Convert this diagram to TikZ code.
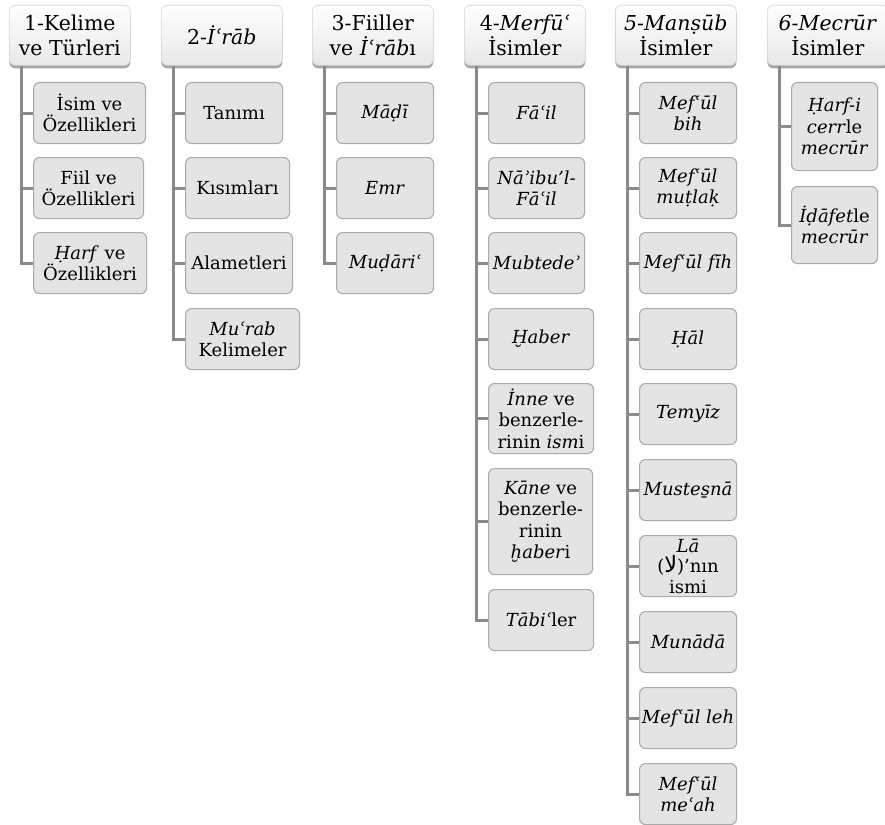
\documentclass[tikz,border=0pt]{standalone}
\usepackage{fontspec}
\setmainfont{DejaVu Serif}
\newfontfamily\arabicfont[Script=Arabic,Scale=1.25]{DejaVu Sans}
\TeXXeTstate=1
\usetikzlibrary{shadows}

\definecolor{trunk}{HTML}{8A8A8A}
\definecolor{subfill}{HTML}{E4E4E4}
\definecolor{subedge}{HTML}{AAAAAA}
\definecolor{headedge}{HTML}{D2D2D2}

\tikzset{
  head/.style={draw=headedge, line width=0.6pt, rounded corners=6pt,
    top color=white, bottom color=black!9,
    drop shadow={shadow xshift=0pt, shadow yshift=-3pt, opacity=0.35, fill=black},
    anchor=north west, minimum width=121pt, minimum height=60pt, inner sep=0pt,
    align=center, font=\fontsize{20.5pt}{25pt}\selectfont},
  sub/.style={draw=subedge, line width=1.1pt, rounded corners=6pt, fill=subfill,
    anchor=north west, inner sep=0pt, align=center,
    font=\fontsize{18pt}{21.5pt}\selectfont},
  sz/.style 2 args={minimum width=#1pt, minimum height=#2pt},
  conn/.style={draw=trunk, line width=3pt},
}

\begin{document}
\begin{tikzpicture}[x=1pt, y=-1pt]
\useasboundingbox (0,0) rectangle (885,824);

% column headers
\node[head] (h1) at (9,5)   {1-Kelime\\ve Türleri};
\node[head] (h2) at (161,5) {2-\textit{İʿrāb}};
\node[head] (h3) at (312,5) {3-Fiiller\\ve \textit{İʿrāb}ı};
\node[head] (h4) at (464,5) {4-\textit{Merfūʿ}\\İsimler};
\node[head] (h5) at (615,5) {\textit{5-Manṣūb}\\İsimler};
\node[head] (h6) at (767,5) {\textit{6-Mecrūr}\\İsimler};

% 1: Kelime
\node[sub, sz={112}{61}] (a1) at (33,82)  {İsim ve\\Özellikleri};
\node[sub, sz={110}{61}] (a2) at (33,157) {Fiil ve\\Özellikleri};
\node[sub, sz={113}{61}] (a3) at (33,232) {\textit{Ḥarf} ve\\Özellikleri};

% 2: İ'rab
\node[sub, sz={97}{61}]  (b1) at (185,82)  {Tanımı};
\node[sub, sz={104}{61}] (b2) at (185,157) {Kısımları};
\node[sub, sz={107}{61}] (b3) at (185,232) {Alametleri};
\node[sub, sz={114}{61}] (b4) at (185,308) {\textit{Muʿrab}\\Kelimeler};

% 3: Fiiller
\node[sub, sz={97}{61}] (d1) at (336,82)  {\textit{Māḍī}};
\node[sub, sz={97}{61}] (d2) at (336,157) {\textit{Emr}};
\node[sub, sz={97}{61}] (d3) at (336,232) {\textit{Muḍāriʿ}};

% 4: Merfu' isimler
\node[sub, sz={96}{61}]   (e1) at (488,82)  {\textit{Fāʿil}};
\node[sub, sz={96}{61}]   (e2) at (488,157) {\textit{Nāʾibu’l-}\\\textit{Fāʿil}};
\node[sub, sz={96}{61}]   (e3) at (488,232) {\textit{Mubtedeʾ}};
\node[sub, sz={105}{61}]  (e4) at (488,308) {\textit{Ḫaber}};
\node[sub, sz={105}{70}]  (e5) at (488,383) {\textit{İnne} ve\\benzerle-\\rinin \textit{ism}i};
\node[sub, sz={104}{106}] (e6) at (488,468) {\textit{Kāne} ve\\benzerle-\\rinin\\\textit{ḫaber}i};
\node[sub, sz={105}{61}]  (e7) at (488,589) {\textit{Tābiʿ}ler};

% 5: Mansub isimler
\node[sub, sz={97}{61}] (f1)  at (639,82)  {\textit{Mefʿūl}\\\textit{bih}};
\node[sub, sz={97}{61}] (f2)  at (639,157) {\textit{Mefʿūl}\\\textit{muṭlaḳ}};
\node[sub, sz={97}{61}] (f3)  at (639,232) {\textit{Mefʿūl fīh}};
\node[sub, sz={97}{61}] (f4)  at (639,308) {\textit{Ḥāl}};
\node[sub, sz={97}{61}] (f5)  at (639,383) {\textit{Temyīz}};
\node[sub, sz={97}{61}] (f6)  at (639,459) {\textit{Mustes̱nā}};
\node[sub, sz={97}{61}, font=\fontsize{18pt}{20.5pt}\selectfont] (f7) at (639,535)
  {\textit{Lā}\\(\beginR{\arabicfont لا}\endR)’nın\\ismi};
\node[sub, sz={97}{61}] (f8)  at (639,611) {\textit{Munādā}};
\node[sub, sz={97}{61}] (f9)  at (639,687) {\textit{Mefʿūl leh}};
\node[sub, sz={97}{61}] (f10) at (639,763) {\textit{Mefʿūl}\\\textit{meʿah}};

% 6: Mecrur isimler
\node[sub, sz={86}{88}] (g1) at (791,82)  {\textit{Ḥarf-i}\\\textit{cerr}le\\\textit{mecrūr}};
\node[sub, sz={86}{77}] (g2) at (791,186) {\textit{İḍāfet}le\\\textit{mecrūr}};

% elbow connectors from each header trunk to its items
\foreach \h/\list in {h1/{a1,a2,a3}, h2/{b1,b2,b3,b4}, h3/{d1,d2,d3},
    h4/{e1,e2,e3,e4,e5,e6,e7}, h5/{f1,f2,f3,f4,f5,f6,f7,f8,f9,f10}, h6/{g1,g2}}{
  \foreach \c in \list {
    \draw[conn] ([xshift=12.5pt]\h.south west) |- (\c.west);
  }
}
\end{tikzpicture}
\end{document}
